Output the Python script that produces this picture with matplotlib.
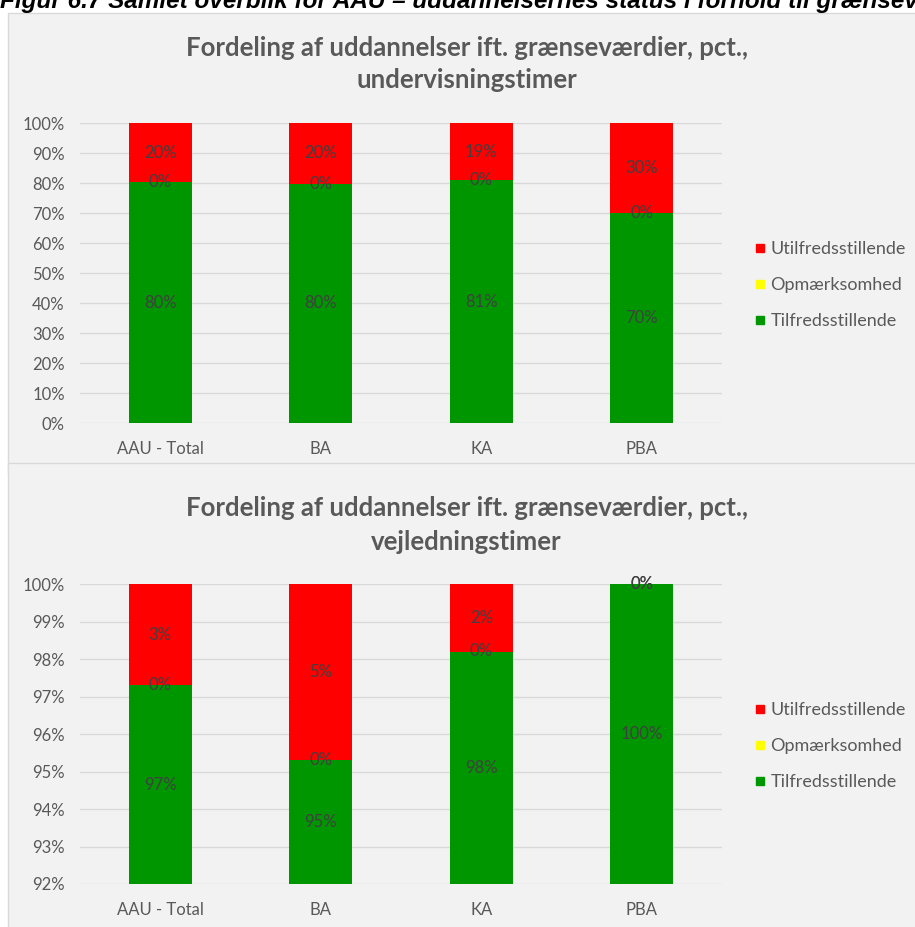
"""
Fordeling af uddannelser ift. graensevaerdier - stacked bar charts
"""

import matplotlib.pyplot as plt
from matplotlib.lines import Line2D
from matplotlib.patches import Rectangle

plt.rcParams['font.family'] = ['Lato', 'DejaVu Sans']

# categories and series (percent)
categories = ["AAU - Total", "BA", "KA", "PBA"]
series_names = ["Tilfredsstillende", "Opmærksomhed", "Utilfredsstillende"]
series_colors = ["#009600", "#FFFF00", "#FF0000"]

# undervisningstimer
teach_green = [80.2, 79.8, 80.9, 70.0]
teach_yellow = [0.0, 0.0, 0.0, 0.0]
teach_red = [19.8, 20.2, 19.1, 30.0]

# vejledningstimer
guide_green = [97.3, 95.3, 98.2, 100.0]
guide_yellow = [0.0, 0.0, 0.0, 0.0]
guide_red = [2.7, 4.7, 1.8, 0.0]

teach_ticks = list(range(0, 101, 10))
guide_ticks = list(range(92, 101, 1))

caption = ("Figur 6.7 Samlet overblik for AAU \u2013 uddannelsernes status "
           "i forhold til grænseværdier")
title_top = ("Fordeling af uddannelser ift. grænseværdier, pct.,\n"
             "undervisningstimer")
title_bottom = ("Fordeling af uddannelser ift. grænseværdier, pct.,\n"
                "vejledningstimer")

W, H = 915, 927
TEXT_GREY = "#595959"
LABEL_GREY = "#404040"


def stacked_chart(ax, values, ticks, title, title_y):
    """
    draw one stacked percent bar chart with labels, grid and legend.
    """
    ymin, ymax = ticks[0], ticks[-1]
    x = range(len(categories))
    bottom = [0.0] * len(categories)
    for vals, name, color in zip(values, series_names, series_colors):
        ax.bar(x, vals, width=0.39, bottom=bottom, color=color,
               label=name, zorder=2)
        for i, v in enumerate(vals):
            lo = max(bottom[i], ymin)
            hi = min(bottom[i] + v, ymax)
            ax.text(i, (lo + hi) / 2, "{:.0f}%".format(v), ha="center",
                    va="center", fontsize=12, color=LABEL_GREY, zorder=3)
        bottom = [b + v for b, v in zip(bottom, vals)]

    ax.set_xlim(-0.5, 3.5)
    ax.set_ylim(ymin, ymax)
    ax.set_yticks(ticks)
    ax.set_yticklabels(["{}%".format(t) for t in ticks])
    ax.set_xticks(list(x))
    ax.set_xticklabels(categories)
    ax.tick_params(length=0, labelsize=12, labelcolor=TEXT_GREY)
    ax.tick_params(axis="x", pad=13)
    ax.tick_params(axis="y", pad=11)
    ax.grid(axis="y", color="#d9d9d9", linewidth=1, zorder=0)
    ax.set_axisbelow(True)
    for s in ax.spines.values():
        s.set_visible(False)
    ax.patch.set_visible(False)

    handles = [Line2D([], [], marker="s", linestyle="none", markersize=6,
                      color=c) for c in series_colors]
    ax.legend(handles[::-1], series_names[::-1], loc="center left",
              bbox_to_anchor=(1.036, 0.46), frameon=False, fontsize=13,
              labelcolor=TEXT_GREY, handletextpad=0.2, labelspacing=1.1,
              handlelength=0.8, borderaxespad=0)

    fig.text(0.51, title_y, title, ha="center", va="center",
             fontsize=18.5, fontweight="bold", color=TEXT_GREY,
             linespacing=1.45)


fig = plt.figure(figsize=(W / 100, H / 100), dpi=100)
fig.patch.set_facecolor("white")

# chart area backgrounds, kept behind the axes
fig.patches.append(Rectangle((8 / W, 1 - 473 / H), 1, 460 / H,
                             transform=fig.transFigure, facecolor="#f2f2f2",
                             edgecolor="#d9d9d9", linewidth=1, zorder=-5))
fig.patches.append(Rectangle((8 / W, -0.01), 1, 473 / H,
                             transform=fig.transFigure, facecolor="#f2f2f2",
                             edgecolor="#d9d9d9", linewidth=1, zorder=-5))

fig.text(0, 1 - 8 / H, caption, ha="left", va="baseline",
         fontsize=17.5, fontweight="bold", fontstyle="italic",
         family="Liberation Sans", color="black")

ax1 = fig.add_axes([80 / W, 1 - 423 / H, 642 / W, 300 / H])
stacked_chart(ax1, [teach_green, teach_yellow, teach_red], teach_ticks,
              title_top, 1 - 64 / H)

ax2 = fig.add_axes([80 / W, 1 - 884 / H, 642 / W, 300 / H])
stacked_chart(ax2, [guide_green, guide_yellow, guide_red], guide_ticks,
              title_bottom, 1 - 525 / H)

fig.savefig("out.png", dpi=100)
